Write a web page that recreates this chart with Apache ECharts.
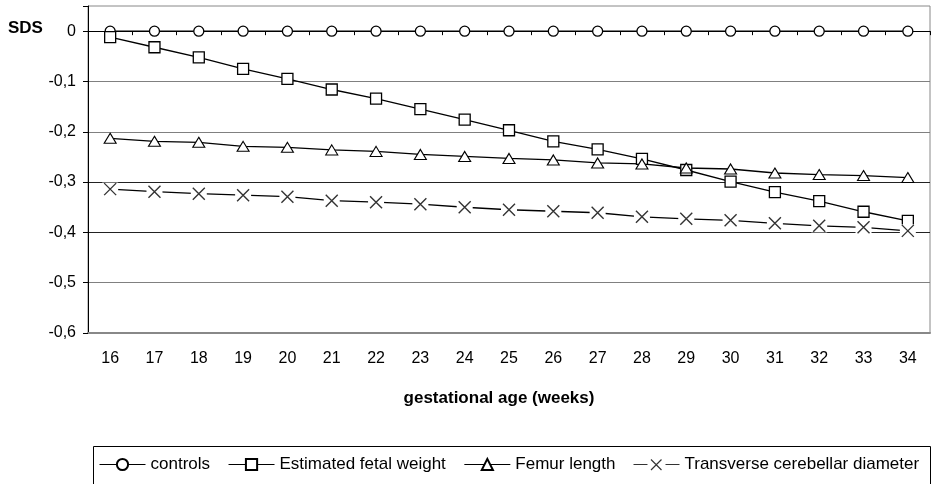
<!DOCTYPE html>
<html>
<head>
<meta charset="utf-8">
<script src="https://cdn.jsdelivr.net/npm/echarts@6/dist/echarts.min.js"></script>
<style>html,body{margin:0;padding:0;background:#fff;}#c{width:933px;height:484px;}</style>
</head>
<body>
<div id="c"></div>
<script>
const weeks = ['16','17','18','19','20','21','22','23','24','25','26','27','28','29','30','31','32','33','34'];
const controls = [0,0,0,0,0,0,0,0,0,0,0,0,0,0,0,0,0,0,0];
const efw = [-0.012,-0.032,-0.052,-0.075,-0.095,-0.116,-0.134,-0.155,-0.176,-0.197,-0.219,-0.235,-0.254,-0.276,-0.299,-0.320,-0.338,-0.359,-0.377];
const femur = [-0.213,-0.219,-0.221,-0.229,-0.231,-0.236,-0.239,-0.245,-0.249,-0.253,-0.256,-0.262,-0.264,-0.272,-0.274,-0.282,-0.285,-0.287,-0.291];
const tcd = [-0.314,-0.319,-0.323,-0.326,-0.329,-0.337,-0.340,-0.344,-0.350,-0.355,-0.358,-0.361,-0.369,-0.373,-0.376,-0.382,-0.387,-0.390,-0.397];
const seriesNames = ['controls','Estimated fetal weight','Femur length','Transverse cerebellar diameter'];
const yTickLabels = ['-0,6','-0,5','-0,4','-0,3','-0,2','-0,1','0'];

const FONT = '"Liberation Sans", Arial, sans-serif';
const xPath = 'path://M0,0L10,10M10,0L0,10';
const tcdLegendIcon = 'path://M0,0L0,0M46,14L46,14M0,6.5L14,6.5L14,7.5L0,7.5ZM32,6.5L46,6.5L46,7.5L32,7.5Z' +
  'M17.92,1.58L28.42,12.08L27.58,12.92L17.08,2.42ZM28.42,2.42L17.92,12.92L17.08,12.08L27.58,1.58Z';

const chart = echarts.init(document.getElementById('c'), null, {renderer: 'canvas'});
const lineBase = {type: 'line', xAxisIndex: 0, yAxisIndex: 0, animation: false,
  lineStyle: {color: '#000', width: 1.3}, emphasis: {disabled: true}};

chart.setOption({
  animation: false,
  backgroundColor: '#fff',
  textStyle: {fontFamily: FONT},
  grid: {left: 88, right: 3, top: 6, bottom: 151, show: true, borderColor: '#888', borderWidth: 1, containLabel: false},
  xAxis: [
    {type: 'category', data: weeks, position: 'bottom', boundaryGap: true,
     axisLine: {onZero: false, lineStyle: {color: '#888', width: 2}},
     axisTick: {show: false},
     axisLabel: {color: '#000', fontSize: 16, fontFamily: FONT, margin: 18},
     splitLine: {show: false}},
    {type: 'category', data: weeks, position: 'top', boundaryGap: true,
     axisLine: {onZero: true, lineStyle: {color: '#000', width: 1}},
     axisTick: {show: true, inside: true, length: 4, lineStyle: {color: '#000'}},
     axisLabel: {show: false}, splitLine: {show: false}}
  ],
  yAxis: {type: 'value', min: -0.6, max: 0.05, interval: 0.1,
    axisLine: {show: true, onZero: false, lineStyle: {color: '#000', width: 1}},
    axisTick: {show: true, length: 5, lineStyle: {color: '#000'}},
    axisLabel: {color: '#000', fontSize: 16, fontFamily: FONT, margin: 12,
      formatter: function (v) {
        if (v > 0.01) return '';
        const idx = Math.round((v + 0.6) * 10);
        return yTickLabels[idx] || '';
      }},
    splitLine: {show: true, showMaxLine: false,
      lineStyle: {color: ['#808080','#808080','#222','#222','#808080','#808080','#000','#808080'], width: 1}}
  },
  legend: {
    left: 99, top: 456, itemWidth: 46, itemHeight: 14, itemGap: 18, padding: 0,
    selectedMode: false,
    lineStyle: {width: 1},
    textStyle: {color: '#000', fontSize: 17, fontFamily: FONT},
    data: [
      {name: seriesNames[0]},
      {name: seriesNames[1]},
      {name: seriesNames[2]},
      {name: seriesNames[3], icon: tcdLegendIcon, itemStyle: {color: '#000', borderWidth: 0}}
    ]
  },
  graphic: [
    {type: 'text', left: 8, top: 20, style: {text: 'SDS', font: 'bold 17px ' + FONT, fill: '#000'}},
    {type: 'text', x: 499, y: 398, style: {text: 'gestational age (weeks)', font: 'bold 17px ' + FONT, fill: '#000', align: 'center', verticalAlign: 'middle'}},
    {type: 'rect', shape: {x: 93.5, y: 446.5, width: 837, height: 60}, style: {fill: 'none', stroke: '#000', lineWidth: 1}, z: -1}
  ],
  series: [
    Object.assign({}, lineBase, {name: seriesNames[0], data: controls, symbol: 'circle', symbolSize: 10,
      itemStyle: {color: '#fff', borderColor: '#000', borderWidth: 1.3}}),
    Object.assign({}, lineBase, {name: seriesNames[1], data: efw, symbol: 'rect', symbolSize: 11,
      itemStyle: {color: '#fff', borderColor: '#000', borderWidth: 1.3}}),
    Object.assign({}, lineBase, {name: seriesNames[2], data: femur, symbol: 'triangle', symbolSize: [12, 10],
      itemStyle: {color: '#fff', borderColor: '#000', borderWidth: 1.1}}),
    Object.assign({}, lineBase, {name: 'tcd-line', data: tcd, symbol: 'rect', symbolSize: [16, 13],
      itemStyle: {color: '#fff', borderWidth: 0}}),
    {type: 'scatter', name: seriesNames[3], data: tcd, xAxisIndex: 0, yAxisIndex: 0, symbol: xPath, symbolSize: 12,
      z: 5, animation: false, emphasis: {disabled: true},
      itemStyle: {color: '#000', borderColor: '#000', borderWidth: 1.4}}
  ]
});
</script>
</body>
</html>
